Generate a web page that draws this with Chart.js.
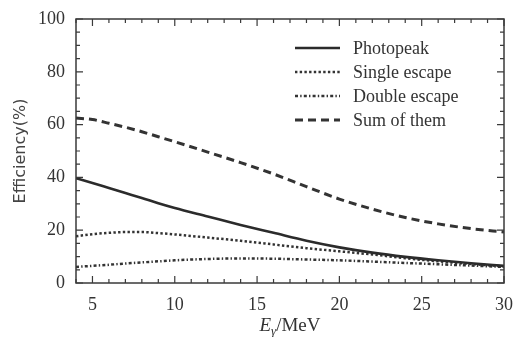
<!DOCTYPE html>
<html>
<head>
<meta charset="utf-8">
<script src="https://cdn.jsdelivr.net/npm/chart.js@4"></script>
<style>
  html, body { margin: 0; padding: 0; background: #fff; }
</style>
</head>
<body>
<canvas id="myChart" width="517" height="337"></canvas>
<script>
const ctx = document.getElementById('myChart');

// values (E in MeV, efficiency in %)
const energy = [4, 5, 6, 7, 8, 9, 10, 12, 14, 16, 18, 20, 22, 24, 26, 28, 30];
const photopeak = [39.7, 37.9, 36.0, 34.1, 32.2, 30.2, 28.4, 25.2, 22.0, 19.0, 16.0, 13.5, 11.5, 9.9, 8.6, 7.5, 6.5];
const singleEscape = [17.7, 18.5, 19.0, 19.3, 19.3, 18.9, 18.4, 17.2, 16.0, 14.6, 13.2, 12.0, 10.8, 9.4, 8.2, 7.2, 6.3];
const doubleEscape = [6.1, 6.5, 6.9, 7.4, 7.8, 8.2, 8.6, 9.1, 9.3, 9.2, 8.9, 8.6, 8.1, 7.6, 7.1, 6.6, 6.1];
const sumOfThem = [62.5, 61.9, 60.5, 59.0, 57.3, 55.4, 53.5, 49.6, 45.6, 41.3, 36.5, 31.8, 28.0, 24.8, 22.4, 20.6, 19.3];

const xTicks = [5, 10, 15, 20, 25, 30];
const yTicks = [0, 20, 40, 60, 80, 100];

const ink = '#333';
const serif = "'Liberation Serif', 'DejaVu Serif', serif";

function pairs(ys) {
    return energy.map((x, i) => ({ x: x, y: ys[i] }));
}

// frame + inward ticks on all four sides
const framePlugin = {
    id: 'frame',
    afterDraw(chart) {
        const c = chart.ctx;
        const a = chart.chartArea;
        const xs = chart.scales.x, ys = chart.scales.y;
        c.save();
        c.strokeStyle = '#3a3a3a';
        c.lineWidth = 1.5;
        c.strokeRect(a.left, a.top, a.right - a.left, a.bottom - a.top);
        c.lineWidth = 1.2;
        c.beginPath();
        for (let v = 4; v <= 30; v++) {
            const px = xs.getPixelForValue(v);
            const len = v % 5 === 0 ? 7 : 4;
            c.moveTo(px, a.bottom); c.lineTo(px, a.bottom - len);
            c.moveTo(px, a.top); c.lineTo(px, a.top + len);
        }
        for (let v = 0; v <= 100; v += 5) {
            const py = ys.getPixelForValue(v);
            const len = v % 20 === 0 ? 7 : 4;
            c.moveTo(a.left, py); c.lineTo(a.left + len, py);
            c.moveTo(a.right, py); c.lineTo(a.right - len, py);
        }
        c.stroke();
        c.restore();
    }
};

// legend drawn inside the plot, top right
const legendPlugin = {
    id: 'innerLegend',
    afterDraw(chart) {
        const c = chart.ctx;
        c.save();
        c.font = '18px ' + serif;
        c.textBaseline = 'middle';
        c.fillStyle = ink;
        chart.data.datasets.forEach((ds, i) => {
            const y = 48 + i * 24;
            c.strokeStyle = ds.borderColor;
            c.lineWidth = ds.borderWidth;
            c.setLineDash(ds.borderDash || []);
            c.beginPath();
            c.moveTo(295, y);
            c.lineTo(340, y);
            c.stroke();
            c.fillText(ds.label, 353, y + 1);
        });
        c.restore();
    }
};

// x axis title E_gamma/MeV with subscript
const xTitlePlugin = {
    id: 'xTitle',
    afterDraw(chart) {
        const c = chart.ctx;
        const a = chart.chartArea;
        const cx = (a.left + a.right) / 2;
        const y = 331;
        c.save();
        c.fillStyle = ink;
        c.textBaseline = 'alphabetic';
        c.font = 'italic 19px ' + serif;
        const wE = c.measureText('E').width;
        c.font = 'italic 13px ' + serif;
        const wG = c.measureText('γ').width;
        c.font = '19px ' + serif;
        const wR = c.measureText('/MeV').width;
        let x = cx - (wE + wG + wR) / 2;
        c.font = 'italic 19px ' + serif;
        c.fillText('E', x, y);
        x += wE;
        c.font = 'italic 13px ' + serif;
        c.fillText('γ', x, y + 4);
        x += wG;
        c.font = '19px ' + serif;
        c.fillText('/MeV', x, y);
        c.restore();
    }
};

new Chart(ctx, {
    type: 'line',
    data: {
        datasets: [{
            label: 'Photopeak',
            data: pairs(photopeak),
            borderColor: '#2b2b2b',
            borderWidth: 2.6,
            borderDash: []
        }, {
            label: 'Single escape',
            data: pairs(singleEscape),
            borderColor: '#333',
            borderWidth: 2.5,
            borderDash: [2.4, 2.3]
        }, {
            label: 'Double escape',
            data: pairs(doubleEscape),
            borderColor: '#333',
            borderWidth: 2.5,
            borderDash: [3, 2.2, 1.4, 2.2]
        }, {
            label: 'Sum of them',
            data: pairs(sumOfThem),
            borderColor: '#333',
            borderWidth: 3,
            borderDash: [8, 5]
        }]
    },
    options: {
        responsive: false,
        animation: false,
        layout: { padding: { top: 19, right: 13, left: 0, bottom: 0 } },
        elements: {
            point: { radius: 0 },
            line: { tension: 0.4, cubicInterpolationMode: 'monotone', fill: false }
        },
        plugins: {
            legend: { display: false },
            tooltip: { enabled: false }
        },
        scales: {
            x: {
                type: 'linear',
                min: 4,
                max: 30,
                afterBuildTicks: (axis) => { axis.ticks = xTicks.map(v => ({ value: v })); },
                afterFit: (scale) => {
                    scale.height = 54;
                    scale.paddingLeft = 0;
                    scale.paddingRight = 0;
                },
                grid: { display: false, drawTicks: false },
                border: { display: false },
                ticks: { padding: 11, color: ink, font: { family: serif, size: 18 } }
            },
            y: {
                min: 0,
                max: 100,
                afterBuildTicks: (axis) => { axis.ticks = yTicks.map(v => ({ value: v })); },
                afterFit: (scale) => {
                    scale.width = 76;
                    scale.paddingTop = 0;
                    scale.paddingBottom = 0;
                },
                grid: { display: false, drawTicks: false },
                border: { display: false },
                ticks: { padding: 11, color: ink, font: { family: serif, size: 18 } },
                title: {
                    display: true,
                    text: 'Efficiency(%)',
                    color: '#444',
                    padding: { top: 11, bottom: 0 },
                    font: { family: "'DejaVu Sans', sans-serif", size: 16 }
                }
            }
        }
    },
    plugins: [framePlugin, legendPlugin, xTitlePlugin]
});
</script>
</body>
</html>
